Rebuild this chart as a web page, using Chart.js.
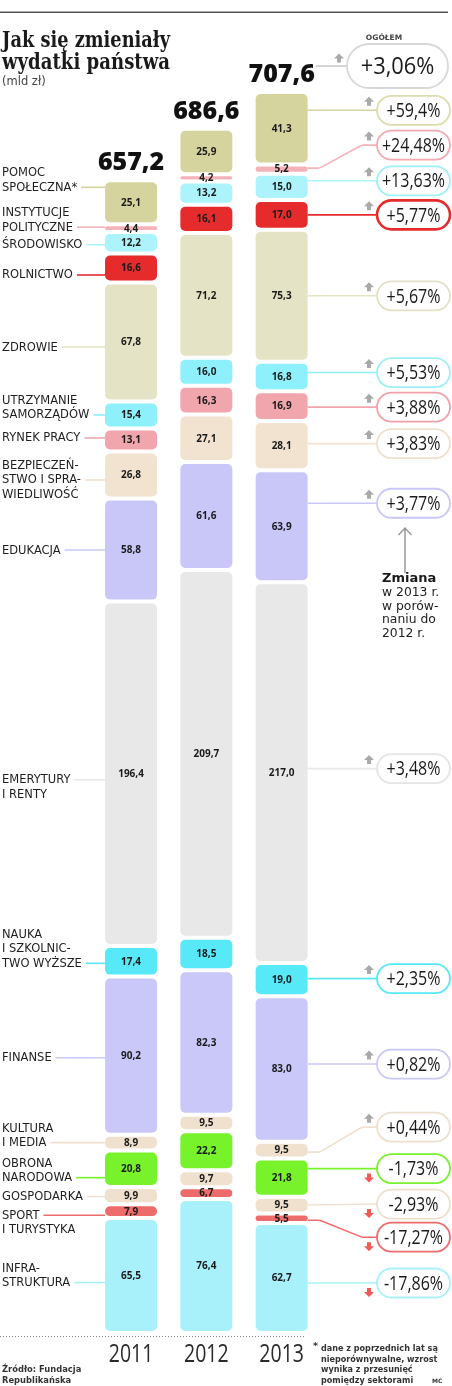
<!DOCTYPE html>
<html><head><meta charset="utf-8">
<script src="https://cdn.jsdelivr.net/npm/chart.js@4/dist/chart.umd.min.js"></script>
<style>html,body{margin:0;padding:0;background:#fff}#wrap{width:452px;height:1386px;position:relative}</style>
</head><body><div id="wrap"><canvas id="c"></canvas></div>
<script>
// ---------- DATA (stack order: bottom to top) ----------
const years = ['2011', '2012', '2013'];
const categories = ['Infrastruktura','Sport i turystyka','Gospodarka','Obrona narodowa','Kultura i media','Finanse','Nauka i szkolnictwo wyższe','Emerytury i renty','Edukacja','Bezpieczeństwo i sprawiedliwość','Rynek pracy','Utrzymanie samorządów','Zdrowie','Rolnictwo','Środowisko','Instytucje polityczne','Pomoc społeczna'];
const labelLines = [['INFRA-','STRUKTURA'],['SPORT','I TURYSTYKA'],['GOSPODARKA'],['OBRONA','NARODOWA'],['KULTURA','I MEDIA'],['FINANSE'],['NAUKA','I SZKOLNIC-','TWO WYŻSZE'],['EMERYTURY','I RENTY'],['EDUKACJA'],['BEZPIECZEŃ-','STWO I SPRA-','WIEDLIWOŚĆ'],['RYNEK PRACY'],['UTRZYMANIE','SAMORZĄDÓW'],['ZDROWIE'],['ROLNICTWO'],['ŚRODOWISKO'],['INSTYTUCJE','POLITYCZNE'],['POMOC','SPOŁECZNA*']];
const values2011 = [65.5, 7.9, 9.9, 20.8, 8.9, 90.2, 17.4, 196.4, 58.8, 26.8, 13.1, 15.4, 67.8, 16.6, 12.2, 4.4, 25.1];
const values2012 = [76.4, 6.7, 9.7, 22.2, 9.5, 82.3, 18.5, 209.7, 61.6, 27.1, 16.3, 16.0, 71.2, 16.1, 13.2, 4.2, 25.9];
const values2013 = [62.7, 5.5, 9.5, 21.8, 9.5, 83.0, 19.0, 217.0, 63.9, 28.1, 16.9, 16.8, 75.3, 17.0, 15.0, 5.2, 41.3];
const change2013 = ['-17,86%','-17,27%','-2,93%','-1,73%','+0,44%','+0,82%','+2,35%','+3,48%','+3,77%','+3,83%','+3,88%','+5,53%','+5,67%','+5,77%','+13,63%','+24,48%','+59,4%'];
const totals = ['657,2', '686,6', '707,6'];
const totalChange = '+3,06%';

// ---------- STYLE / LAYOUT ----------
const colors = ['#a9f1fa','#ee6b6b','#f0e1cf','#77f22b','#f0e1cf','#cac8f9','#57e9f7','#e8e8e8','#c9c7f8','#f2e2d0','#f0a6ac','#8ef0fa','#e5e3c5','#e52b2b','#adf3fb','#f4b3b9','#d6d49e'];
const bubbleColors = ['#a9f1fa','#ee6b6b','#eedfcc','#77f22b','#eedfcc','#cac8f9','#57e9f7','#e4e4e4','#c9c7f8','#efdfcd','#f0a0a8','#9ef0f8','#e2e1c6','#e52b2b','#9ef0f8','#f4a9b0','#dcdcaa'];
const leftNudge = [7, 4, 1, 9, 0, 2, 2, 6, 0, 5, -2, 0, 5, 7, 2, -1, -15];
const leftAnchorLine = [1, 0, 0, 1, 1, 0, 2, 0, 0, 1, 0, 1, 0, 0, 0, 1, 1];
const rightNudge = [5, 2, 0, -9, 2, -5, -1, -4, -23, -2, 1, -4, 0, 0, -6, -1, -18];
const rightShift = [0, 17, -1, 0, -25, 0, 0, 0, 0, 0, 0, 0, 0, 0, 0, -23, 0];

function fmt(v) { return v.toFixed(1).replace('.', ','); }
function txt(ctx, s, x, y, font, color, align, sx, baseline) {
  ctx.save();
  ctx.font = font; ctx.fillStyle = color; ctx.textAlign = align || 'left'; ctx.textBaseline = baseline || 'alphabetic';
  ctx.translate(x, y); ctx.scale(sx || 1, 1); ctx.fillText(s, 0, 0);
  ctx.restore();
}
function pill(ctx, x, y, w, h, stroke, lw) {
  const r = h / 2;
  ctx.save();
  ctx.beginPath();
  ctx.moveTo(x + r, y); ctx.lineTo(x + w - r, y); ctx.arc(x + w - r, y + r, r, -Math.PI/2, Math.PI/2);
  ctx.lineTo(x + r, y + h); ctx.arc(x + r, y + r, r, Math.PI/2, Math.PI*1.5); ctx.closePath();
  ctx.fillStyle = '#fff'; ctx.fill();
  ctx.lineWidth = lw; ctx.strokeStyle = stroke; ctx.stroke();
  ctx.restore();
}
function arrow(ctx, cx, cy, up, color) {
  const d = up ? 1 : -1;
  ctx.save(); ctx.fillStyle = color; ctx.beginPath();
  ctx.moveTo(cx, cy - 5*d); ctx.lineTo(cx + 5, cy); ctx.lineTo(cx + 2, cy); ctx.lineTo(cx + 2, cy + 4*d);
  ctx.lineTo(cx - 2, cy + 4*d); ctx.lineTo(cx - 2, cy); ctx.lineTo(cx - 5, cy); ctx.closePath(); ctx.fill();
  ctx.restore();
}

const BUB_X = 377, BUB_W = 73, BUB_H = 29;

const overlay = {
  id: 'overlay',
  afterDraw(chart) {
    const ctx = chart.ctx;
    const n = categories.length;
    // top rule
    ctx.fillStyle = '#555'; ctx.fillRect(0, 11.5, 448, 1.5);
    // title
    ctx.save();
    ctx.font = 'bold 23px "DejaVu Serif"'; ctx.fillStyle = '#1a1a1a'; ctx.textBaseline = 'alphabetic'; ctx.textAlign = 'left';
    ctx.fillText('Jak się zmieniały', 2, 46.5, 168);
    ctx.fillText('wydatki państwa', 2, 68.5, 168);
    ctx.font = '11.5px "DejaVu Sans"'; ctx.fillStyle = '#444';
    ctx.fillText('(mld zł)', 2, 85);
    ctx.restore();
    // segment values
    for (let i = 0; i < n; i++) {
      const meta = chart.getDatasetMeta(i);
      meta.data.forEach((bar, j) => {
        const cy = (bar.y + bar.base) / 2;
        const v = chart.data.datasets[i].data[j];
        txt(ctx, fmt(v), bar.x, cy + 0.5, 'bold 10px "Open Sans"', '#1a1a1a', 'center', 1, 'middle');
      });
    }
    // totals & years
    const top = chart.getDatasetMeta(n - 1);
    top.data.forEach((bar, j) => {
      txt(ctx, totals[j], bar.x, bar.y - 10, '800 25px "Open Sans"', '#111', 'center', 1);
      txt(ctx, years[j], bar.x, 1362, '25px "Open Sans"', '#2a2a2a', 'center', 0.78);
    });
    // left labels (2011)
    for (let i = 0; i < n; i++) {
      const bar = chart.getDatasetMeta(i).data[0];
      const cy = (bar.y + bar.base) / 2 + leftNudge[i];
      const lines = labelLines[i];
      const a = leftAnchorLine[i];
      lines.forEach((s, k) => txt(ctx, s, 2, cy + (k - a) * 14.5 + 0.5, '11.5px "DejaVu Sans"', '#1e1e1e', 'left', 1, 'middle'));
      ctx.font = '11.5px "DejaVu Sans"';
      const w = ctx.measureText(lines[a]).width;
      ctx.save(); ctx.strokeStyle = colors[i]; ctx.lineWidth = 1.6;
      ctx.beginPath(); ctx.moveTo(2 + w + 4, cy); ctx.lineTo(bar.x - bar.width / 2 + 2, cy); ctx.stroke(); ctx.restore();
    }
    // right bubbles (2013)
    for (let i = 0; i < n; i++) {
      const bar = chart.getDatasetMeta(i).data[2];
      const y0 = (bar.y + bar.base) / 2 + rightNudge[i];
      const y1 = y0 + rightShift[i];
      const xr = bar.x + bar.width / 2 - 2;
      ctx.save(); ctx.strokeStyle = colors[i]; ctx.lineWidth = 1.6; ctx.beginPath();
      ctx.moveTo(xr, y0);
      if (Math.abs(y1 - y0) > 2) { ctx.arcTo(xr + 12, y0, 362, y1, 8); ctx.arcTo(362, y1, BUB_X, y1, 8); }
      ctx.lineTo(BUB_X, y1); ctx.stroke(); ctx.restore();
      const up = change2013[i][0] === '+';
      arrow(ctx, 369, up ? y1 - 8.5 : y1 + 9, up, up ? '#a9a9a9' : '#f05a5a');
      pill(ctx, BUB_X, y1 - BUB_H / 2, BUB_W, BUB_H, bubbleColors[i], i === 13 ? 2.6 : 1.8);
      txt(ctx, change2013[i], BUB_X + BUB_W / 2, y1 + 1, '20px "Open Sans"', '#1a1a1a', 'center', 0.8, 'middle');
    }
    // total change
    ctx.save(); ctx.strokeStyle = '#c8c8c8'; ctx.lineWidth = 1.6; ctx.beginPath();
    ctx.moveTo(316, 66); ctx.lineTo(347, 66); ctx.stroke(); ctx.restore();
    arrow(ctx, 339, 58.5, true, '#a9a9a9');
    pill(ctx, 347, 44, 101, 44, '#d8d8d8', 1.8);
    txt(ctx, totalChange, 397.5, 67, '23px "Open Sans"', '#1a1a1a', 'center', 0.95, 'middle');
    txt(ctx, 'OGÓŁEM', 384, 40, 'bold 7.5px "DejaVu Sans"', '#444', 'center', 1);
    // "Zmiana" note
    ctx.save(); ctx.strokeStyle = '#999'; ctx.lineWidth = 1.5; ctx.beginPath();
    ctx.moveTo(405, 573); ctx.lineTo(405, 528); ctx.moveTo(398.5, 535); ctx.lineTo(405, 528); ctx.lineTo(411.5, 535); ctx.stroke(); ctx.restore();
    txt(ctx, 'Zmiana', 382, 582, 'bold 13px "DejaVu Sans"', '#1a1a1a', 'left', 1);
    ['w 2013 r.', 'w porów-', 'naniu do', '2012 r.'].forEach((s, k) => txt(ctx, s, 382, 596 + k * 13.5, '13px "DejaVu Sans"', '#222', 'left', 0.95));
    // bottom dotted rule
    ctx.save(); ctx.strokeStyle = '#888'; ctx.lineWidth = 1; ctx.setLineDash([1, 2]);
    ctx.beginPath(); ctx.moveTo(0, 1336.5); ctx.lineTo(304, 1336.5); ctx.stroke(); ctx.restore();
    // footnotes
    const ff = 'bold 9.5px "DejaVu Sans"';
    txt(ctx, 'Źródło: Fundacja', 2, 1372, ff, '#333', 'left', 0.88);
    txt(ctx, 'Republikańska', 2, 1383, ff, '#333', 'left', 0.88);
    txt(ctx, '*', 313, 1349, ff, '#333', 'left', 1);
    ['dane z poprzednich lat są', 'nieporównywalne, wzrost', 'wynika z przesunięć', 'pomiędzy sektorami'].forEach((s, k) =>
      txt(ctx, s, 321, 1351 + k * 10.7, ff, '#333', 'left', 0.85));
    txt(ctx, 'MC', 432, 1383, 'bold 6px "DejaVu Sans"', '#333', 'left', 1);
  }
};

const datasets = categories.map((c, i) => ({
  label: c,
  data: [values2011[i], values2012[i], values2013[i]],
  backgroundColor: colors[i],
  borderColor: '#ffffff',
  borderWidth: 2,
  borderSkipped: false,
  borderRadius: { topLeft: 7, topRight: 7, bottomLeft: 7, bottomRight: 7 },
  inflateAmount: 0,
  barThickness: 56,
  stack: 's'
}));

new Chart(document.getElementById('c'), {
  type: 'bar',
  data: { labels: years, datasets },
  options: {
    responsive: true, maintainAspectRatio: false, animation: false, devicePixelRatio: 1,
    layout: { padding: { left: 93.4, right: 132.7, top: 0, bottom: 53 } },
    plugins: { legend: { display: false }, tooltip: { enabled: false }, title: { display: false } },
    scales: {
      x: { display: false, stacked: true },
      y: { display: false, stacked: true, min: 0, max: 760 }
    }
  },
  plugins: [overlay]
});
</script>
</body></html>
